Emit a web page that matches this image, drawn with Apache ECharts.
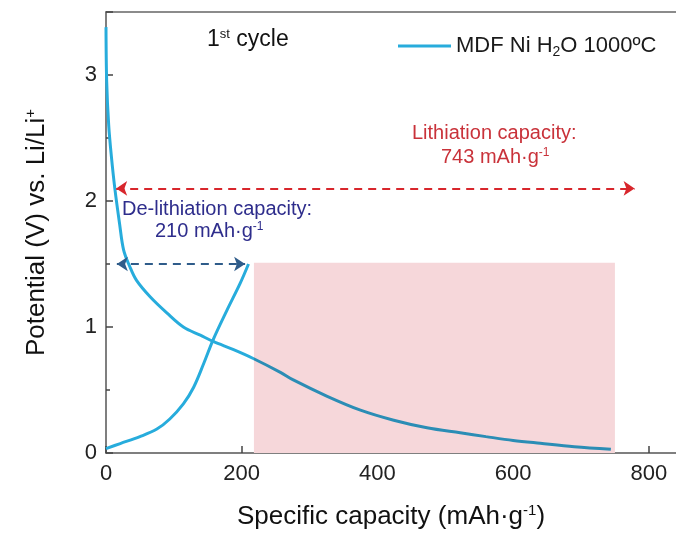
<!DOCTYPE html>
<html>
<head>
<meta charset="utf-8">
<script src="https://cdn.jsdelivr.net/npm/echarts@6/dist/echarts.min.js"></script>
<style>
  html, body { margin: 0; padding: 0; background: #fff; }
  #chart { width: 676px; height: 541px; }
</style>
</head>
<body>
<div id="chart"></div>
<script>
// lithiation (discharge) curve
var dischargeX = [0, 1, 4, 8, 13, 20, 26, 35, 45, 65, 90, 114, 139, 158, 188, 217, 257, 276, 326, 375, 424, 473, 522, 560, 600, 640, 690, 744];
var dischargeY = [3.38, 2.95, 2.6, 2.35, 2.1, 1.82, 1.61, 1.48, 1.37, 1.24, 1.11, 1.0, 0.935, 0.885, 0.82, 0.75, 0.64, 0.58, 0.45, 0.34, 0.26, 0.2, 0.16, 0.13, 0.1, 0.077, 0.05, 0.03];
// de-lithiation (charge) curve
var chargeX = [0, 21, 50, 75, 94, 114, 129, 144, 158, 178, 198, 210];
var chargeY = [0.035, 0.075, 0.13, 0.19, 0.27, 0.39, 0.52, 0.71, 0.9, 1.13, 1.35, 1.5];
// [from x, to x, y]
var lithArrow = [15, 779, 2.1];
var delithArrow = [16, 205, 1.5];
// shaded box [from x, to x, top y]
var shadeBox = [218, 750, 1.51];
var xTicks = [0, 200, 400, 600, 800];
var yTicks = [0, 1, 2, 3];

var seriesName = 'MDF Ni H2O 1000ºC';
var FONT = '"Liberation Sans", Arial, sans-serif';
var BLUE = '#27acdc';
var BLUE_DARK = '#2b8db5';

function pairs(xs, ys) {
    var out = [];
    for (var i = 0; i < xs.length; i++) out.push([xs[i], ys[i]]);
    return out;
}

var chart = echarts.init(document.getElementById('chart'));

var option = {
    animation: false,
    textStyle: { fontFamily: FONT },
    grid: { left: 106, right: 0, top: 12, bottom: 88 },
    legend: {
        data: [{ name: seriesName, itemStyle: { color: BLUE } }],
        left: 393,
        top: 30,
        icon: 'rect',
        itemWidth: 53,
        itemHeight: 3,
        formatter: function () { return 'MDF Ni H{sub|2}O 1000ºC'; },
        textStyle: {
            fontFamily: FONT,
            fontSize: 22,
            color: '#1a1a1a',
            rich: {
                sub: { fontFamily: FONT, fontSize: 14, color: '#1a1a1a', verticalAlign: 'top', padding: [12, 0, 0, 0] }
            }
        }
    },
    xAxis: [{
        type: 'value',
        min: 0,
        max: 840,
        interval: 200,
        name: 'Specific capacity (mAh·g{sup|-1})',
        nameLocation: 'middle',
        nameGap: 50,
        nameTextStyle: {
            fontFamily: FONT,
            fontSize: 26,
            color: '#111',
            rich: {
                sup: { fontFamily: FONT, fontSize: 15, color: '#111', verticalAlign: 'bottom', padding: [0, 0, 12, 0] }
            }
        },
        axisLine: { lineStyle: { color: '#555', width: 1.5 } },
        axisTick: { inside: true, length: 7, lineStyle: { color: '#444', width: 1.5 } },
        axisLabel: {
            fontFamily: FONT,
            fontSize: 22,
            color: '#222',
            margin: 10,
            showMaxLabel: false,
            formatter: function (v) { return xTicks.indexOf(v) >= 0 ? String(v) : ''; }
        },
        splitLine: { show: false }
    }, {
        type: 'value',
        position: 'top',
        min: 0,
        max: 840,
        axisLine: { show: true, lineStyle: { color: '#666', width: 1.5 } },
        axisTick: { show: false },
        axisLabel: { show: false },
        splitLine: { show: false }
    }],
    yAxis: {
        type: 'value',
        min: 0,
        max: 3.5,
        interval: 1,
        name: 'Potential (V) vs. Li/Li{sup|+}',
        nameLocation: 'middle',
        nameGap: 56,
        nameTextStyle: {
            fontFamily: FONT,
            fontSize: 26,
            color: '#111',
            rich: {
                sup: { fontFamily: FONT, fontSize: 15, color: '#111', verticalAlign: 'bottom', padding: [0, 0, 12, 0] }
            }
        },
        axisLine: { show: true, lineStyle: { color: '#555', width: 1.5 } },
        axisTick: { inside: true, length: 7, lineStyle: { color: '#444', width: 1.5 } },
        minorTick: { show: true, splitNumber: 2, length: 4, lineStyle: { color: '#444', width: 1.5 } },
        axisLabel: {
            fontFamily: FONT,
            fontSize: 22,
            color: '#222',
            margin: 9,
            showMaxLabel: false,
            formatter: function (v) { return yTicks.indexOf(v) >= 0 ? String(v) : ''; }
        },
        splitLine: { show: false }
    },
    series: [{
        name: seriesName,
        type: 'line',
        data: pairs(dischargeX, dischargeY),
        smooth: 0.35,
        showSymbol: false,
        itemStyle: { color: BLUE },
        lineStyle: { width: 3, color: BLUE },
        z: 3
    }, {
        name: seriesName,
        type: 'line',
        data: pairs(chargeX, chargeY),
        smooth: 0.35,
        showSymbol: false,
        itemStyle: { color: BLUE },
        lineStyle: { width: 3, color: BLUE },
        z: 3
    }, {
        name: 'annotations',
        type: 'line',
        data: [],
        markArea: {
            silent: true,
            itemStyle: { color: '#f6d7da' },
            data: [[{ coord: [shadeBox[0], 0] }, { coord: [shadeBox[1], shadeBox[2]] }]]
        },
        markLine: {
            silent: true,
            symbol: ['arrow', 'arrow'],
            symbolSize: [11, 11],
            label: { show: false },
            data: [
                [{ coord: [lithArrow[0], lithArrow[2]], lineStyle: { color: '#d8262c', type: [8, 6], width: 2 } },
                 { coord: [lithArrow[1], lithArrow[2]] }],
                [{ coord: [delithArrow[0], delithArrow[2]], lineStyle: { color: '#2f5c8a', type: [8, 6], width: 2 } },
                 { coord: [delithArrow[1], delithArrow[2]] }]
            ]
        },
        z: 1
    }],
    graphic: [{
        type: 'text',
        left: 207,
        top: 28,
        style: {
            text: '1{sup|st} cycle',
            font: '23px ' + FONT,
            fill: '#111',
            rich: {
                sup: { fontFamily: FONT, fontSize: 13, fill: '#111', verticalAlign: 'bottom', padding: [0, 0, 10, 0] }
            }
        }
    }, {
        type: 'text',
        left: 412,
        top: 123,
        style: {
            text: 'Lithiation capacity:',
            font: '20px ' + FONT,
            fill: '#c9323a'
        }
    }, {
        type: 'text',
        left: 441,
        top: 147,
        style: {
            text: '743 mAh·g{sup|-1}',
            font: '20px ' + FONT,
            fill: '#c9323a',
            rich: {
                sup: { fontFamily: FONT, fontSize: 12, fill: '#c9323a', verticalAlign: 'bottom', padding: [0, 0, 9, 0] }
            }
        }
    }, {
        type: 'text',
        left: 122,
        top: 199,
        style: {
            text: 'De-lithiation capacity:',
            font: '20px ' + FONT,
            fill: '#2e2d8c'
        }
    }, {
        type: 'text',
        left: 155,
        top: 221,
        style: {
            text: '210 mAh·g{sup|-1}',
            font: '20px ' + FONT,
            fill: '#2e2d8c',
            rich: {
                sup: { fontFamily: FONT, fontSize: 12, fill: '#2e2d8c', verticalAlign: 'bottom', padding: [0, 0, 9, 0] }
            }
        }
    }]
};

chart.setOption(option);

// the part of the lithiation curve inside the shaded box looks darker
var x0 = chart.convertToPixel({ xAxisIndex: 0 }, 0);
var x1 = chart.convertToPixel({ xAxisIndex: 0 }, 840);
var cut = chart.convertToPixel({ xAxisIndex: 0 }, shadeBox[0]);
var f = (cut - x0) / (x1 - x0);
chart.setOption({
    series: [{
        lineStyle: {
            color: new echarts.graphic.LinearGradient(x0, 0, x1, 0, [
                { offset: 0, color: BLUE },
                { offset: f, color: BLUE },
                { offset: f, color: BLUE_DARK },
                { offset: 1, color: BLUE_DARK }
            ], true)
        }
    }]
});
</script>
</body>
</html>
